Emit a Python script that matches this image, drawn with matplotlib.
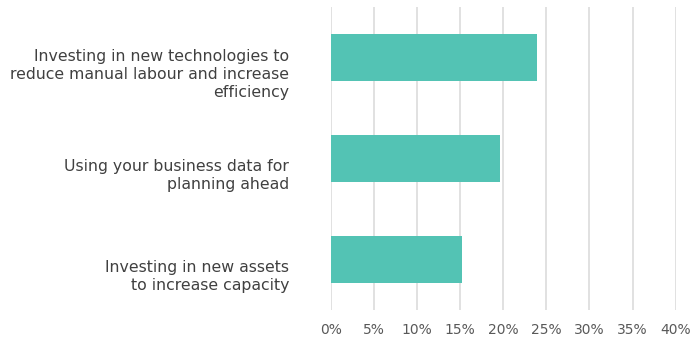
import matplotlib
matplotlib.use("Agg")
import matplotlib.pyplot as plt
import matplotlib.transforms as mtransforms
from matplotlib.ticker import FuncFormatter

categories = [
    "Investing in new technologies to\nreduce manual labour and increase\nefficiency",
    "Using your business data for\nplanning ahead",
    "Investing in new assets\nto increase capacity",
]
values = [23.9, 19.6, 15.2]
xticks = [0, 5, 10, 15, 20, 25, 30, 35, 40]

fig = plt.figure(figsize=(6.97, 3.37), dpi=100)
ax = fig.add_axes([0.4745, 0.0801, 0.4949, 0.8989])

ypos = list(range(len(categories)))
ax.barh(ypos, values, height=0.47, color="#53C3B4", zorder=3)

ax.set_ylim(len(categories) - 0.5, -0.5)
ax.set_xlim(0, 40)
ax.set_xticks(xticks)
ax.xaxis.set_major_formatter(FuncFormatter(lambda v, p: f"{v:.0f}%"))
ax.set_yticks(ypos)
ax.set_yticklabels(categories, ha="right", multialignment="right")

ax.grid(axis="x", color="#dcdcdc", linewidth=1.2, zorder=0)
for s in ax.spines.values():
    s.set_visible(False)
ax.tick_params(axis="y", length=0, pad=30, labelsize=11.3, labelcolor="#404040")
ax.tick_params(axis="x", length=0, pad=9, labelsize=10, labelcolor="#595959")

# category labels sit slightly below the bar centres
shift = mtransforms.ScaledTranslation(0, -14 / 100, fig.dpi_scale_trans)
for lbl in ax.get_yticklabels():
    lbl.set_linespacing(1.27)
    lbl.set_transform(lbl.get_transform() + shift)

fig.savefig("out.png", dpi=100)
